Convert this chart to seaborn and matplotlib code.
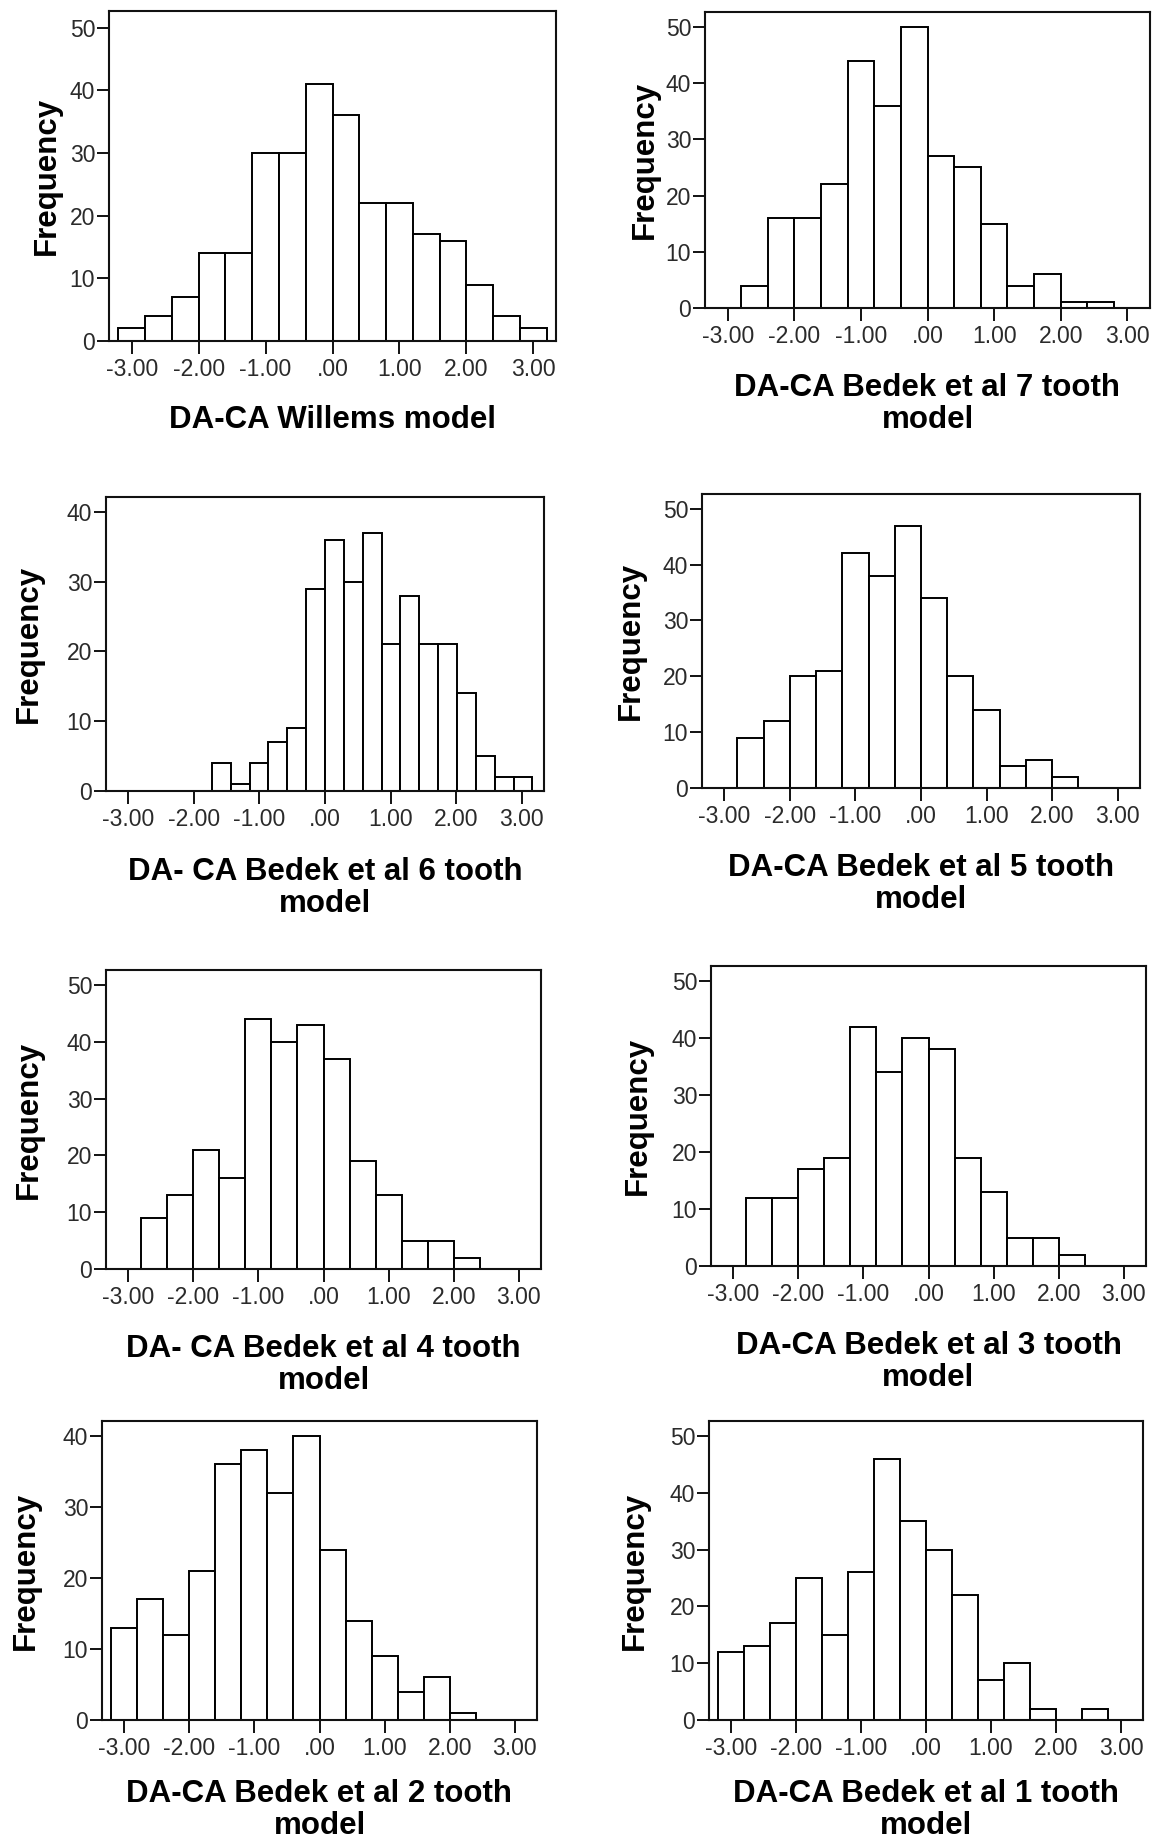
import numpy as np
import pandas as pd
import matplotlib
matplotlib.use("Agg")
import matplotlib.pyplot as plt
import seaborn as sns

# ---------------- data ----------------
titles = [
    "DA-CA Willems model",
    "DA-CA Bedek et al 7 tooth\nmodel",
    "DA- CA Bedek et al 6 tooth\nmodel",
    "DA-CA Bedek et al 5 tooth\nmodel",
    "DA- CA Bedek et al 4 tooth\nmodel",
    "DA-CA Bedek et al 3 tooth\nmodel",
    "DA-CA Bedek et al 2 tooth\nmodel",
    "DA-CA Bedek et al 1 tooth\nmodel",
]
bin_start = [-3.2, -2.8, -1.725, -2.8, -2.8, -2.8, -3.2, -3.2]
bin_width = [0.4, 0.4, 0.2875, 0.4, 0.4, 0.4, 0.4, 0.4]
counts_willems = [2, 4, 7, 14, 14, 30, 30, 41, 36, 22, 22, 17, 16, 9, 4, 2]
counts_7tooth = [4, 16, 16, 22, 44, 36, 50, 27, 25, 15, 4, 6, 1, 1]
counts_6tooth = [4, 1, 4, 7, 9, 29, 36, 30, 37, 21, 28, 21, 21, 14, 5, 2, 2]
counts_5tooth = [9, 12, 20, 21, 42, 38, 47, 34, 20, 14, 4, 5, 2]
counts_4tooth = [9, 13, 21, 16, 44, 40, 43, 37, 19, 13, 5, 5, 2]
counts_3tooth = [12, 12, 17, 19, 42, 34, 40, 38, 19, 13, 5, 5, 2]
counts_2tooth = [13, 17, 12, 21, 36, 38, 32, 40, 24, 14, 9, 4, 6, 1]
counts_1tooth = [12, 13, 17, 25, 15, 26, 46, 35, 30, 22, 7, 10, 2, 0, 2]
all_counts = [counts_willems, counts_7tooth, counts_6tooth, counts_5tooth,
              counts_4tooth, counts_3tooth, counts_2tooth, counts_1tooth]
y_max_tick = [50, 50, 40, 50, 50, 50, 40, 50]
x_tick_values = [-3, -2, -1, 0, 1, 2, 3]
x_tick_labels = ["-3.00", "-2.00", "-1.00", ".00", "1.00", "2.00", "3.00"]

# ---------------- layout (pixels) ----------------
W, H = 1159, 1843
# left, right, top, bottom of each frame
frames = [
    (109, 556, 11, 341),
    (705, 1150, 12, 308),
    (106, 544, 497, 791),
    (702, 1140, 494, 788),
    (106, 541, 970, 1269),
    (711, 1146, 966, 1266),
    (102, 537, 1421, 1720),
    (709, 1143, 1421, 1720),
]
ylabel_x = [47, 645, 29, 631, 29, 638, 26, 635]
xlabel_y = [420, 404, 888, 884, 1365, 1362, 1810, 1810]

sns.set_theme(style="ticks")
plt.rcParams["font.family"] = ["Liberation Sans", "DejaVu Sans"]

fig = plt.figure(figsize=(W / 100, H / 100), dpi=100)
fig.patch.set_facecolor("white")

for i in range(8):
    l, r, t, b = frames[i]
    ax = fig.add_axes([l / W, 1 - b / H, (r - l) / W, (b - t) / H])
    counts = np.array(all_counts[i], dtype=float)
    n = len(counts)
    edges = bin_start[i] + bin_width[i] * np.arange(n + 1)
    centers = (edges[:-1] + edges[1:]) / 2
    df = pd.DataFrame({"value": centers, "count": counts})
    sns.histplot(data=df, x="value", weights="count", bins=list(edges), ax=ax,
                 color="white", edgecolor="black", linewidth=1.4, alpha=1.0)
    ax.set_xlim(-3.34, 3.34)
    top = y_max_tick[i] * 1.053
    ax.set_ylim(0, top)
    ax.set_yticks(np.arange(0, y_max_tick[i] + 1, 10))
    ax.set_xticks(x_tick_values)
    ax.set_xticklabels(x_tick_labels)
    for s in ax.spines.values():
        s.set_visible(True)
        s.set_linewidth(1.5)
        s.set_color("#111111")
    ax.tick_params(axis="both", direction="out", length=9, width=1.4,
                   colors="#111111", labelcolor="#2a2a2a", labelsize=16.5)
    ax.tick_params(axis="y", pad=1)
    ax.tick_params(axis="x", pad=3)
    ax.set_ylabel("Frequency", fontsize=22.5, fontweight="bold", color="black")
    ax.yaxis.set_label_coords(-(l - ylabel_x[i]) / (r - l), 0.5)
    ax.yaxis.label.set_verticalalignment("center")
    ax.set_xlabel(titles[i], fontsize=22.5, fontweight="bold", color="black",
                  linespacing=1.05)
    ax.xaxis.label.set_verticalalignment("center")
    ax.xaxis.set_label_coords(0.5, -(xlabel_y[i] - b) / (b - t))
    ax.grid(False)

fig.savefig("out.png", dpi=100, facecolor="white")
